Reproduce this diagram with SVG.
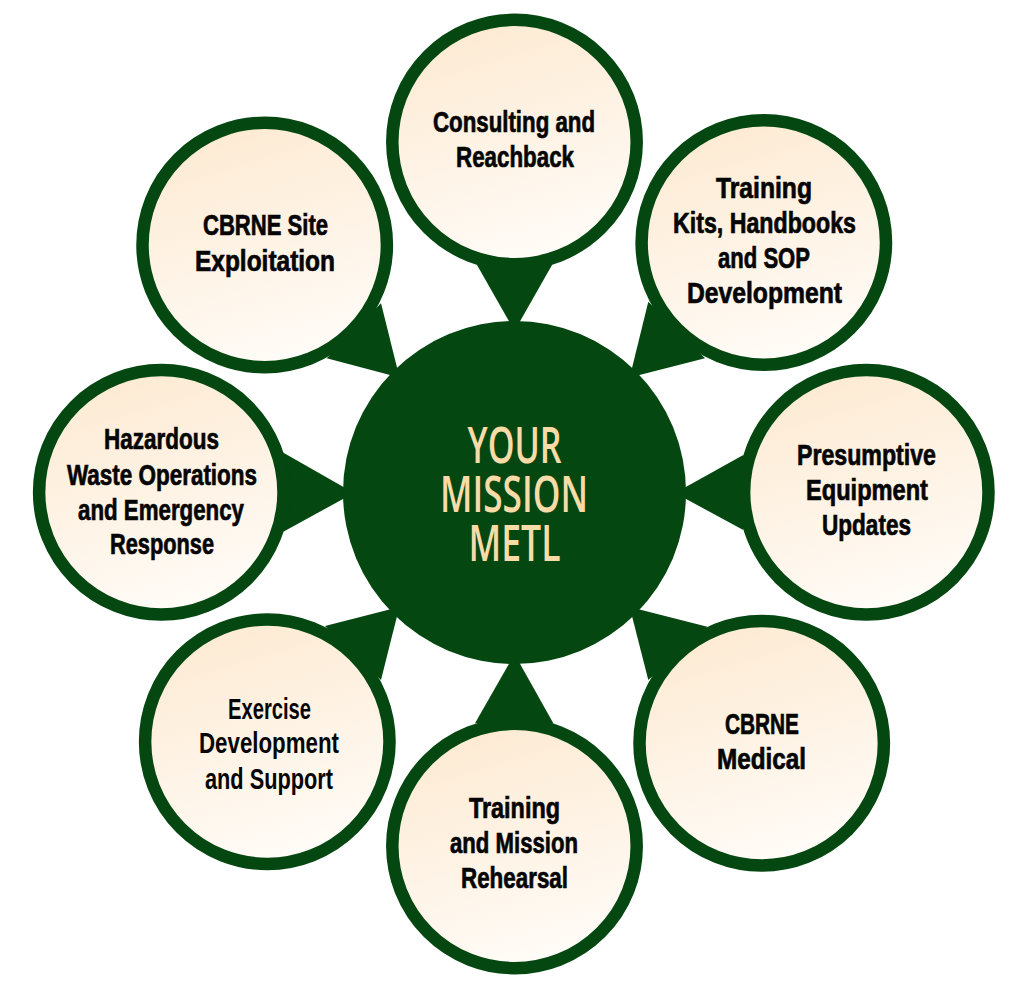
<svg xmlns="http://www.w3.org/2000/svg" width="1024" height="996" viewBox="0 0 1024 996">
<style>
.ring{fill:url(#cream);stroke:#044711;stroke-width:12.5}
.ptr{fill:#044711}
text{font-family:"Liberation Sans","Open Sans",sans-serif;text-anchor:middle;fill:#050505;stroke:#050505;stroke-width:0.7px;font-size:29px;font-weight:700}
text.semi{stroke:none}
text.hub{fill:#f8dba6;stroke:none;font-family:"Open Sans","Liberation Sans",sans-serif;font-size:51px;font-weight:600}
</style>
<defs>
<linearGradient id="cream" x1="0.32" y1="0" x2="0.62" y2="1">
<stop offset="0" stop-color="#fdead2"/>
<stop offset="0.5" stop-color="#fef3e5"/>
<stop offset="1" stop-color="#fffcf8"/>
</linearGradient>
</defs>
<rect width="1024" height="996" fill="#ffffff"/>
<g id="connectors">
<polygon class="ptr" points="477,265 552,265 514.5,331"/>
<polygon class="ptr" points="648.3,301.7 705,358.3 629.7,377.4"/>
<polygon class="ptr" points="743.3,455 743.3,530 675,493"/>
<polygon class="ptr" points="707.3,626.7 648.3,680 629.7,607"/>
<polygon class="ptr" points="475,723.3 553.3,723.3 514.5,654"/>
<polygon class="ptr" points="325,626 381,680 399.3,607"/>
<polygon class="ptr" points="281.7,451.7 283.3,531.7 354,493"/>
<polygon class="ptr" points="381,303.3 326.7,358.3 399.5,377.5"/>
</g>
<g id="hub">
<circle cx="514.5" cy="492.5" r="171.5" fill="#044711"/>
<text class="hub" x="514.5" y="463" textLength="94" lengthAdjust="spacingAndGlyphs">YOUR</text>
<text class="hub" x="514" y="512" textLength="148" lengthAdjust="spacingAndGlyphs">MISSION</text>
<text class="hub" x="514.5" y="561" textLength="92" lengthAdjust="spacingAndGlyphs">METL</text>
</g>
<g id="node-consulting">
<circle class="ring" cx="514.5" cy="142" r="122.2"/>
<text x="514" y="131.7" textLength="162" lengthAdjust="spacingAndGlyphs">Consulting and</text>
<text x="515" y="166.7" textLength="118" lengthAdjust="spacingAndGlyphs">Reachback</text>
</g>
<g id="node-training-kits">
<circle class="ring" cx="763.8" cy="242.5" r="122.2"/>
<text x="764" y="197.7" textLength="96" lengthAdjust="spacingAndGlyphs">Training</text>
<text x="764.5" y="233" textLength="183" lengthAdjust="spacingAndGlyphs">Kits, Handbooks</text>
<text x="764" y="267.7" textLength="92" lengthAdjust="spacingAndGlyphs">and SOP</text>
<text x="764.5" y="302.7" textLength="155" lengthAdjust="spacingAndGlyphs">Development</text>
</g>
<g id="node-presumptive">
<circle class="ring" cx="866.3" cy="492.3" r="122.2"/>
<text x="866.5" y="465" textLength="139" lengthAdjust="spacingAndGlyphs">Presumptive</text>
<text x="867" y="500" textLength="122" lengthAdjust="spacingAndGlyphs">Equipment</text>
<text x="866.5" y="535" textLength="89" lengthAdjust="spacingAndGlyphs">Updates</text>
</g>
<g id="node-medical">
<circle class="ring" cx="761.7" cy="743.3" r="122.2"/>
<text x="762" y="734" textLength="74" lengthAdjust="spacingAndGlyphs">CBRNE</text>
<text x="761.5" y="769" textLength="89" lengthAdjust="spacingAndGlyphs">Medical</text>
</g>
<g id="node-rehearsal">
<circle class="ring" cx="514.5" cy="846" r="122.2"/>
<text x="514.5" y="817.7" textLength="91" lengthAdjust="spacingAndGlyphs">Training</text>
<text x="514" y="853" textLength="128" lengthAdjust="spacingAndGlyphs">and Mission</text>
<text x="514.5" y="888" textLength="107" lengthAdjust="spacingAndGlyphs">Rehearsal</text>
</g>
<g id="node-exercise">
<circle class="ring" cx="267.3" cy="741.7" r="122.2"/>
<text class="semi" x="269.5" y="718.7" textLength="83" lengthAdjust="spacingAndGlyphs">Exercise</text>
<text class="semi" x="269" y="753" textLength="140" lengthAdjust="spacingAndGlyphs">Development</text>
<text class="semi" x="269" y="789" textLength="128" lengthAdjust="spacingAndGlyphs">and Support</text>
</g>
<g id="node-hazardous">
<circle class="ring" cx="161.3" cy="492.3" r="122.2"/>
<text x="161.5" y="449" textLength="115" lengthAdjust="spacingAndGlyphs">Hazardous</text>
<text x="162" y="485" textLength="190" lengthAdjust="spacingAndGlyphs">Waste Operations</text>
<text x="161" y="519.5" textLength="166" lengthAdjust="spacingAndGlyphs">and Emergency</text>
<text x="162" y="554" textLength="104" lengthAdjust="spacingAndGlyphs">Response</text>
</g>
<g id="node-site">
<circle class="ring" cx="264.7" cy="245" r="122.2"/>
<text x="265.5" y="235" textLength="125" lengthAdjust="spacingAndGlyphs">CBRNE Site</text>
<text x="265" y="271" textLength="140" lengthAdjust="spacingAndGlyphs">Exploitation</text>
</g>
</svg>
